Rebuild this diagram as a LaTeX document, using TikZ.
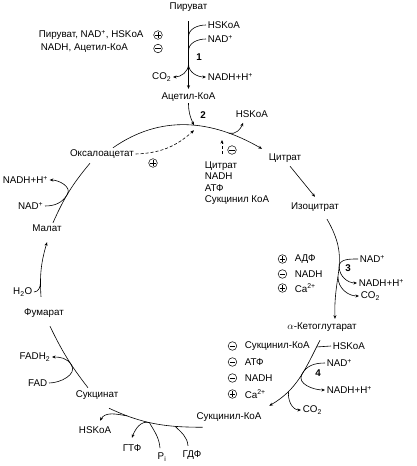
\documentclass[tikz,border=0pt]{standalone}
\usepackage{fontspec}
\setmainfont{Liberation Sans}
\usetikzlibrary{positioning, arrows.meta}

\begin{document}
\begin{tikzpicture}[x=1pt,y=1pt,font=\fontsize{9.8}{11.4}\selectfont,line width=0.6pt,met/.style={inner sep=1.5pt},num/.style={font=\fontsize{9.8}{11.4}\selectfont\bfseries},jn/.style={shape=coordinate},flow/.style={-{Stealth[length=3.6pt,width=3pt]}},dashedflow/.style={flow,dash pattern=on 3pt off 2pt},sgn/.style={circle,draw,line width=0.5pt,minimum size=8.6pt,inner sep=0pt},plussign/.style={sgn,path picture={\draw[line width=0.6pt] (path picture bounding box.center) +(-2.6pt,0) -- +(2.6pt,0) +(0,-2.6pt) -- +(0,2.6pt);}},minussign/.style={sgn,path picture={\draw[line width=0.6pt] (path picture bounding box.center) +(-2.6pt,0) -- +(2.6pt,0);}}]

\useasboundingbox (0,0) rectangle (417,-466);

% Metabolites
\node[met] (pyr) at (188.5,-7) {Пируват};
\node[met] (acoa) at (188.5,-97) {Ацетил-КоА};
\node[met] (oxa) at (102,-154) {Оксалоацетат};
\node[met] (cit) at (285,-158) {Цитрат};
\node[met] (iso) at (315,-207) {Изоцитрат};
\node[met] (akg) at (322,-327) {$\alpha$-Кетоглутарат};
\node[met] (sca) at (229,-417) {Сукцинил-КоА};
\node[met] (suc) at (97,-395) {Сукцинат};
\node[met] (fum) at (44,-313) {Фумарат};
\node[met] (mal) at (47,-228) {Малат};

% Reaction 1
\coordinate (j1a) at (188.5,-37);
\coordinate (j1b) at (188.5,-51);
\coordinate (j1c) at (188.5,-64);
\node[met,anchor=west] (hskoaA) at (206,-25) {HSKoA};
\node[met,anchor=west] (nadA) at (206,-39) {NAD\textsuperscript{+}};
\node[met,anchor=west] (nadhA) at (206,-77) {NADH+H\textsuperscript{+}};
\node[met,anchor=east] (co2A) at (173,-77) {CO\textsubscript{2}};
\node[num] (numA) at (199,-57) {1};
\draw[flow,shorten <=8pt,shorten >=2pt] (pyr) -- (acoa);
\draw (hskoaA.west) to[out=180,in=90] (j1a);
\draw (nadA.west) to[out=180,in=90] (j1b);
\draw[flow] (j1c) to[out=-90,in=180] (nadhA.west);
\draw[flow] (j1c) to[out=-90,in=0] (co2A.east);
\node[met,anchor=west] (regA1) at (37,-35) {Пируват, NAD\textsuperscript{+}, HSKoA};
\node[met,anchor=west] (regA2) at (39,-48) {NADH, Ацетил-КоА};
\node[plussign] (plusA) at (158,-35) {};
\node[minussign,below=4.4pt of plusA] (minusA) {};

% Reaction 2
\draw[flow] ([xshift=11pt]oxa.north) to[out=35,in=150] node[jn,pos=0.55] (j2) {} node[jn,pos=0.78] (j2b) {} ([xshift=-5pt,yshift=3pt]cit.north west);
\draw[flow] (acoa.south) to[out=-90,in=115] (j2);
\node[num] (numB) at (203,-115) {2};
\node[met,anchor=west] (hskoaB) at (234,-114) {HSKoA};
\draw[flow] (j2b) to[out=-15,in=-110] ([xshift=9pt,yshift=-3.5pt]hskoaB.south west);
\draw[dashedflow] (oxa.east) to[bend right=20] ([yshift=-5pt]j2);
\node[plussign] (plusB) at (153,-163) {};
\node[met,anchor=north west,align=left] (inhB) at (203,-160) {Цитрат\\NADH\\АТФ\\Сукцинил КоА};
\draw[dashedflow] ([xshift=19pt,yshift=6pt]inhB.north west) -- ++(0,14);
\node[minussign] (minusB) at (232,-150) {};

% Citrate -> isocitrate
\draw[flow] ([xshift=5pt,yshift=-2pt]cit.south) -- ([yshift=4pt]iso.north);

% Reaction 3
\draw[flow] ([xshift=12pt,yshift=-6pt]iso.south) to[out=-60,in=92,looseness=1.2] node[jn,pos=0.5] (j3a) {} node[jn,pos=0.62] (j3b) {} ([xshift=13pt,yshift=2pt]akg.north);
\node[met,anchor=west] (nadC) at (358,-259) {NAD\textsuperscript{+}};
\node[met,anchor=west] (nadhC) at (357,-283) {NADH+H\textsuperscript{+}};
\node[met,anchor=west] (co2C) at (359,-296) {CO\textsubscript{2}};
\node[num] (numC) at (348,-268) {3};
\draw[flow] (nadC.west) to[out=180,in=90] (j3a) to[out=-90,in=180] (nadhC.west);
\draw[flow] (j3b) to[out=-90,in=180] (co2C.west);
\node[met,anchor=west] (adfC) at (293,-259) {АДФ};
\node[met,anchor=west] (nadhCr) at (293,-274) {NADH};
\node[met,anchor=west] (caC) at (293,-288) {Ca\textsuperscript{2+}};
\node[plussign,left=6pt of adfC] (plusC1) {};
\node[minussign,left=6pt of nadhCr] (minusC) {};
\node[plussign,left=6pt of caC] (plusC2) {};

% Reaction 4
\draw[flow] ([xshift=-2pt,yshift=-7pt]akg.south) to[out=-117,in=30] node[jn,pos=0.08] (j4a) {} node[jn,pos=0.45] (j4b) {} node[jn,pos=0.72] (j4c) {} ([xshift=6pt,yshift=5pt]sca.north east);
\node[met,anchor=west] (hskoaD) at (331,-346) {HSKoA};
\node[met,anchor=west] (nadD) at (325,-363) {NAD\textsuperscript{+}};
\node[met,anchor=west] (nadhD) at (325,-390) {NADH+H\textsuperscript{+}};
\node[met,anchor=west] (co2D) at (301,-410) {CO\textsubscript{2}};
\node[num] (numD) at (318,-373) {4};
\draw (hskoaD.west) -- (j4a);
\draw[flow] (nadD.west) to[out=180,in=63] (j4b) to[out=-117,in=180] (nadhD.west);
\draw[flow] (j4c) to[out=-100,in=180] (co2D.west);
\node[met,anchor=west] (scaD) at (243,-346) {Сукцинил-КоА};
\node[met,anchor=west] (atfD) at (243,-362) {АТФ};
\node[met,anchor=west] (nadhDr) at (243,-378) {NADH};
\node[met,anchor=west] (caD) at (243,-394) {Ca\textsuperscript{2+}};
\node[minussign,left=6pt of scaD] (minusD1) {};
\node[minussign,left=6pt of atfD] (minusD2) {};
\node[minussign,left=6pt of nadhDr] (minusD3) {};
\node[plussign,left=6pt of caD] (plusD) {};

% Reaction 5
\draw ([xshift=8pt,yshift=-4pt]sca.south west) to[out=180,in=-25] node[jn,pos=0.27] (j5a) {} node[jn,pos=0.56] (j5b) {} node[jn,pos=0.81] (j5c) {} ([xshift=-11pt,yshift=-7pt]suc.south east);
\node[met] (hskoaE) at (95,-430) {HSKoA};
\node[met] (gtfE) at (132,-448) {ГТФ};
\node[met] (piE) at (162,-457) {P\textsubscript{i}};
\node[met] (gdfE) at (192,-455) {ГДФ};
\draw[flow] (j5c) to[out=170,in=60] ([xshift=5pt,yshift=4pt]hskoaE.north);
\draw[flow] (j5b) to[out=165,in=70] ([yshift=5pt]gtfE.north);
\draw ([xshift=-2pt,yshift=3pt]piE.north) to[out=95,in=-60] (j5b);
\draw ([xshift=-4pt,yshift=3pt]gdfE.north) to[out=95,in=-45] (j5a);

% Reaction 6
\draw ([xshift=-9pt,yshift=1pt]suc.north) to[bend left=6] node[jn,pos=0.38] (j6) {} ([xshift=6pt,yshift=-7pt]fum.south);
\node[met,anchor=east] (fadhF) at (52,-357) {FADH\textsubscript{2}};
\node[met,anchor=east] (fadF) at (49,-383) {FAD};
\draw[flow] (fadF.east) to[out=0,in=-58] (j6) to[out=122,in=0] (fadhF.east);

% Reaction 7
\draw[flow] ([xshift=-3pt,yshift=10pt]fum.north) to[bend left=10] node[jn,pos=0.25] (j7) {} ([yshift=-9pt]mal.south);
\node[met,anchor=east] (h2oG) at (34,-292) {H\textsubscript{2}O};
\draw (h2oG.east) to[out=0,in=-90] (j7);

% Reaction 8
\draw ([xshift=6pt]mal.north) to[bend left=8] node[jn,pos=0.45] (j8) {} ([xshift=-12pt,yshift=-3pt]oxa.south);
\node[met,anchor=east] (nadH) at (45,-206) {NAD\textsuperscript{+}};
\node[met,anchor=west] (nadhH) at (1,-180) {NADH+H\textsuperscript{+}};
\draw[flow] (nadH.east) to[out=0,in=-120] (j8) to[out=60,in=0] (nadhH.east);
\end{tikzpicture}
\end{document}
